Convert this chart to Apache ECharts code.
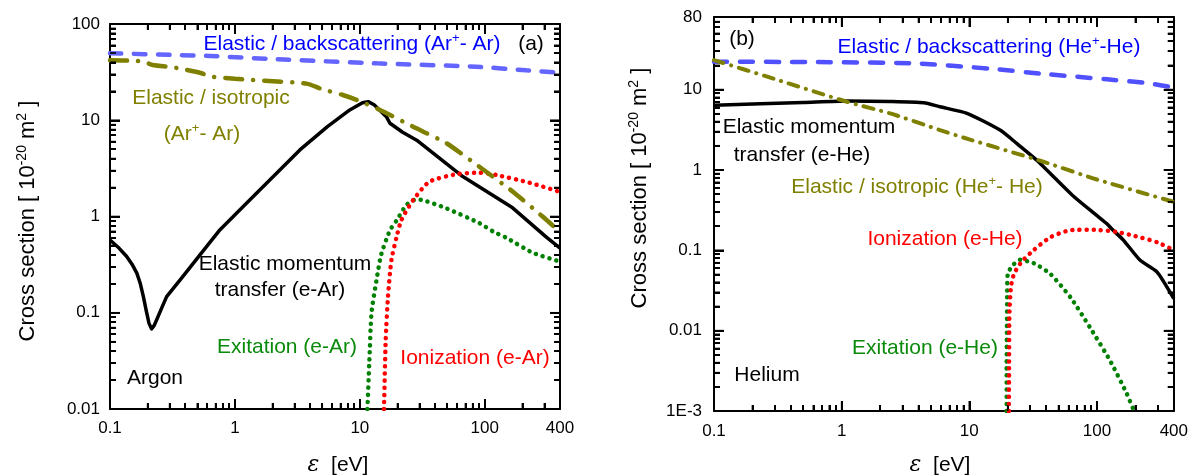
<!DOCTYPE html>
<html><head><meta charset="utf-8">
<script src="https://cdn.jsdelivr.net/npm/echarts@6/dist/echarts.min.js"></script>
<style>html,body{margin:0;padding:0;background:#fff}#c{width:1191px;height:475px}</style>
</head><body><div id="c"></div>
<script>
// ---------- Panel (a): Argon ----------
const arBackscatter = [[0.1,49.7],[0.34,47.6],[0.63,46.6],[2.17,43],[13.7,39],[85,36],[215,33],[400,31.2]];
const arIsotropic = [[0.1,42],[0.15,41.5],[0.185,40.6],[0.22,37.5],[0.34,35],[0.54,30.8],[0.63,28.5],[1,27],[1.37,26.2],[2.17,25.3],[3.75,24],[5,21],[7.3,18.3],[9.4,16.3],[14.5,12.8],[27,8.5],[49,5.8],[91,3.27],[167,1.82],[290,1.0],[400,0.69]];
const arMomentum = [[0.1,0.57],[0.118,0.47],[0.136,0.384],[0.15,0.32],[0.164,0.258],[0.175,0.2],[0.185,0.147],[0.195,0.105],[0.205,0.078],[0.215,0.068],[0.226,0.074],[0.236,0.084],[0.26,0.113],[0.284,0.147],[0.363,0.218],[0.525,0.4],[0.76,0.73],[1.32,1.49],[3.31,4.92],[5.5,8.6],[8.3,12.8],[10.5,15.2],[11.65,15.6],[13,14.5],[16.3,10.9],[17.4,9.3],[22,7.5],[28.5,6.2],[66.7,2.6],[167,1.23],[311,0.61],[400,0.47]];
const arExcitation = [[11.5,0.01],[11.9,0.03],[12.4,0.1],[13.6,0.22],[14.8,0.4],[17.4,0.72],[19.6,0.9],[23.6,1.32],[28,1.5],[32,1.48],[49,1.22],[91,0.85],[116,0.7],[149,0.6],[242,0.42],[400,0.34]];
const arIonization = [[15.6,0.01],[16.1,0.052],[16.8,0.148],[17.9,0.355],[19.6,0.6],[21.5,0.92],[26.7,1.48],[36,2.3],[59,2.75],[90,2.85],[124,2.7],[229,2.24],[400,1.8]];
// ---------- Panel (b): Helium ----------
const heBackscatter = [[0.1,22.2],[0.6,22],[3.7,21.2],[14.6,18.2],[36,15.8],[120,13.4],[250,12],[400,10.6]];
const heIsotropic = [[0.1,23.3],[0.3,13.5],[1.1,7.05],[2.4,5.05],[5.9,3.13],[10,2.4],[36,1.3],[100,0.76],[400,0.4]];
const heMomentum = [[0.1,6.4],[0.5,6.9],[1.1,7.2],[2.4,7.1],[4.4,6.85],[5.9,6.1],[9.6,5.06],[17.4,3.13],[23.5,2.14],[33.8,1.32],[65.5,0.47],[100,0.27],[119,0.215],[135,0.175],[161,0.134],[218,0.075],[295,0.054],[400,0.025]];
const heExcitation = [[19.6,0.001],[19.6,0.003],[19.7,0.01],[19.8,0.03],[20,0.05],[21.5,0.063],[25,0.076],[32,0.069],[43,0.051],[62,0.026],[88,0.011],[126,0.0043],[171,0.00165],[195,0.001]];
const heIonization = [[20.4,0.001],[20.5,0.004],[20.6,0.016],[21.2,0.035],[22.4,0.051],[25.7,0.072],[31.8,0.1],[43,0.145],[62,0.178],[95,0.18],[140,0.17],[200,0.15],[300,0.125],[400,0.1]];
// axis ranges
const xRange = [0.1, 400];
const yRangeA = [0.01, 100];
const yRangeB = [0.001, 80];

const FONT='Liberation Sans, Arial, sans-serif';
const GRID_A = {left:110, top:24, width:450, height:385};
const GRID_B = {left:714, top:17, width:460, height:394};
function fmt(v){
  if (Math.abs(v-0.001)<1e-9) return '1E-3';
  return String(+(+v).toPrecision(6));
}
function mk(gi, extra){
  return Object.assign({type:'log', gridIndex:gi, splitLine:{show:false},
    axisLine:{show:true, onZero:false, lineStyle:{color:'#000', width:2}},
    axisTick:{show:true, inside:true, length:10, lineStyle:{color:'#000', width:2}},
    minorTick:{show:true, splitNumber:9, length:6, lineStyle:{color:'#000', width:2}}}, extra);
}
const lbl = (m)=>({show:true, color:'#000', fontFamily:FONT, fontSize:17, margin:m, formatter:fmt});

function line(data, xi, yi, style, z, smooth){
  return {type:'line', data:data, xAxisIndex:xi, yAxisIndex:yi, symbol:'none', showSymbol:false,
    smooth:(smooth===undefined?0.2:smooth), animation:false, silent:true, z:z||2, lineStyle:style};
}
const DOT = {type:[0.1,7], cap:'round', width:4.5};
const sBlack = {color:'#000', width:3.5, type:'solid', join:'round'};
const sBlueA = {color:'#6464ff', width:4.5, type:[11.5,12.5], cap:'round'};
const sOliveA = {color:'#808000', width:4.5, type:[17,11,0.1,11], cap:'round'};
const sBlueB = {color:'#5050ff', width:4.5, type:[13,13], cap:'round'};
const sOliveB = {color:'#808000', width:4, type:[10,8,0.1,8], cap:'round'};

function txt(x, y, text, color, size, rich){
  return {type:'text', x:x, y:y, z:100, style:{text:text, fill:color, font:(size||21)+'px '+FONT,
    align:'center', verticalAlign:'middle', rich:rich}};
}
function supRich(color, size){
  return {n:{fontSize:size, fontFamily:FONT, fill:color, color:color, lineHeight:size+4},
          s:{fontSize:Math.round(size*0.62), fontFamily:FONT, fill:color, color:color, verticalAlign:'top', lineHeight:Math.round(size*0.62)+1}};
}
const yTitle = '{n|Cross section [ 10}{s|-20}{n| m}{s|2}{n| ]}';
const xTitle = '{e|\u03B5}{t|  [eV]}';
const xRich = {e:{fontFamily:'DejaVu Serif', fontStyle:'italic', fontSize:22, fill:'#000'}, t:{fontFamily:FONT, fontSize:21, fill:'#000'}};

const chart = echarts.init(document.getElementById('c'));
chart.setOption({
  animation:false,
  grid:[GRID_A, GRID_B],
  xAxis:[
    mk(0,{min:xRange[0], max:xRange[1], position:'bottom', axisLabel:lbl(11)}),
    mk(0,{min:xRange[0], max:xRange[1], position:'top', axisLabel:{show:false}}),
    mk(1,{min:xRange[0], max:xRange[1], position:'bottom', axisLabel:lbl(12)}),
    mk(1,{min:xRange[0], max:xRange[1], position:'top', axisLabel:{show:false}})
  ],
  yAxis:[
    mk(0,{min:yRangeA[0], max:yRangeA[1], position:'left', axisLabel:lbl(10)}),
    mk(0,{min:yRangeA[0], max:yRangeA[1], position:'right', axisLabel:{show:false}}),
    mk(1,{min:yRangeB[0], max:yRangeB[1], position:'left', axisLabel:lbl(12)}),
    mk(1,{min:yRangeB[0], max:yRangeB[1], position:'right', axisLabel:{show:false}})
  ],
  series:[
    line(arBackscatter,0,0,sBlueA),
    line(arIsotropic,0,0,sOliveA,3),
    line(arMomentum,0,0,sBlack,2,false),
    line(arExcitation,0,0,Object.assign({color:'#008000'},DOT)),
    line(arIonization,0,0,Object.assign({color:'#ff0000'},DOT)),
    line(heBackscatter,2,2,sBlueB),
    line(heIsotropic,2,2,sOliveB,3),
    line(heMomentum,2,2,sBlack),
    line(heExcitation,2,2,Object.assign({color:'#008000'},DOT)),
    line(heIonization,2,2,Object.assign({color:'#ff0000'},DOT))
  ]
});

// ---- inside tick marks (filled thin rects), placed through the axes' scales ----
function decadeVals(lo, hi, mults){
  const out=[];
  for(let e=Math.floor(Math.log10(lo))-1; e<=Math.ceil(Math.log10(hi)); e++)
    mults.forEach(m=>{ const v=m*Math.pow(10,e); if(v>lo*1.0001 && v<hi*0.9999) out.push(v); });
  return out;
}
function toPx(isX, idx, v, grid, range){
  let p;
  try { p = chart.convertToPixel(isX ? {xAxisIndex:idx} : {yAxisIndex:idx}, v); } catch(e) { p = NaN; }
  if (Array.isArray(p)) p = isX ? p[0] : p[1];
  if (typeof p !== 'number' || !isFinite(p)) {
    const t = Math.log10(v/range[0]) / Math.log10(range[1]/range[0]);
    p = isX ? grid.left + t*grid.width : grid.top + grid.height - t*grid.height;
  }
  return p;
}
function tickRects(xi, yi, xr, yr, grid){
  const g=[], W=1.6;
  const L = toPx(true, xi, xr[0], grid, xr), R = toPx(true, xi, xr[1], grid, xr);
  const B = toPx(false, yi, yr[0], grid, yr), T = toPx(false, yi, yr[1], grid, yr);
  const rect=(x,y,w,h)=>g.push({type:'rect', z:50, silent:true, shape:{x:x,y:y,width:w,height:h}, style:{fill:'#000'}});
  const addX=(v,len)=>{ const p=toPx(true, xi, v, grid, xr); rect(p-W/2, B-len, W, len); rect(p-W/2, T, W, len); };
  const addY=(v,len)=>{ const p=toPx(false, yi, v, grid, yr); rect(L, p-W/2, len, W); rect(R-len, p-W/2, len, W); };
  decadeVals(xr[0],xr[1],[1]).forEach(v=>addX(v,10));
  decadeVals(xr[0],xr[1],[2,3,4,5,6,7,8,9]).forEach(v=>addX(v,6));
  decadeVals(yr[0],yr[1],[1]).forEach(v=>addY(v,10));
  decadeVals(yr[0],yr[1],[2,3,4,5,6,7,8,9]).forEach(v=>addY(v,6));
  return g;
}

const texts = [
  // panel (a)
  txt(352,44,'{n|Elastic / backscattering (Ar}{s|+}{n|- Ar)}','#0000ff',21,supRich('#0000ff',21)),
  txt(531,44,'(a)','#000',21),
  txt(211,98,'Elastic / isotropic','#808000',21),
  txt(202,134,'{n|(Ar}{s|+}{n|- Ar)}','#808000',21,supRich('#808000',21)),
  txt(285,264,'Elastic momentum','#000',21),
  txt(280,290,'transfer (e-Ar)','#000',21),
  txt(287,347,'Exitation (e-Ar)','#0a8a0a',21),
  txt(475,358,'Ionization (e-Ar)','#ff0000',21),
  txt(155,378,'Argon','#000',21),
  {type:'text', x:28, y:221, rotation:Math.PI/2, z:100, style:{text:yTitle, align:'center', verticalAlign:'middle', rich:supRich('#000',22)}},
  {type:'text', x:338, y:465, z:100, style:{text:xTitle, align:'center', verticalAlign:'middle', rich:xRich}},
  // panel (b)
  txt(742,39,'(b)','#000',21),
  txt(989,47,'{n|Elastic / backscattering (He}{s|+}{n|-He)}','#0000ff',21,supRich('#0000ff',21)),
  txt(809,127,'Elastic momentum','#000',21),
  txt(802,155,'transfer (e-He)','#000',21),
  txt(917,187,'{n|Elastic / isotropic (He}{s|+}{n|- He)}','#808000',21,supRich('#808000',21)),
  txt(945,239,'Ionization (e-He)','#ff0000',21),
  txt(925,348,'Exitation (e-He)','#0a8a0a',21),
  txt(767,375,'Helium','#000',21),
  {type:'text', x:640, y:188, rotation:Math.PI/2, z:100, style:{text:yTitle, align:'center', verticalAlign:'middle', rich:supRich('#000',22)}},
  {type:'text', x:940, y:465, z:100, style:{text:xTitle, align:'center', verticalAlign:'middle', rich:xRich}}
];
let tickEls = [];
try { tickEls = tickRects(0,0,xRange,yRangeA,GRID_A).concat(tickRects(2,2,xRange,yRangeB,GRID_B)); } catch(e) { tickEls = []; }
chart.setOption({graphic: texts.concat(tickEls)});
</script></body></html>
